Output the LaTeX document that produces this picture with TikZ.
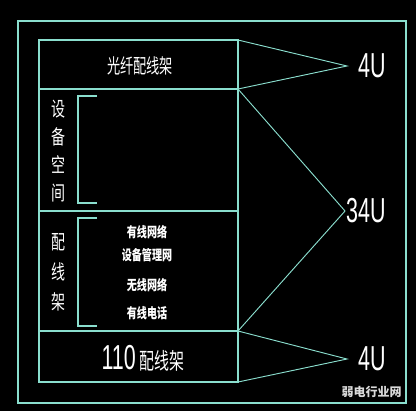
\documentclass[tikz,border=0pt]{standalone}
\usepackage{fontspec}
\setmainfont{Noto Sans CJK SC}
\newfontfamily\numfont{Liberation Sans}
\usetikzlibrary{positioning}
\definecolor{cadline}{RGB}{138,222,206}
\tikzset{
  rack/.style={draw=cadline, line width=0.8pt},
  lead/.style={draw=cadline, line width=0.7pt},
  label/.style={text=white, inner sep=0pt, font=\fontsize{15}{15}\selectfont, xscale=0.66},
  vlabel/.style={text=white, inner sep=0pt, align=center, font=\fontsize{15}{21}\selectfont, xscale=0.7},
  small/.style={text=white, inner sep=0pt, font=\bfseries\fontsize{10.5}{10.5}\selectfont, xscale=0.72},
  ulabel/.style={text=white, inner sep=0pt, font=\numfont\fontsize{26}{26}\selectfont, xscale=0.62}
}
\begin{document}
\begin{tikzpicture}[x=0.75pt, y=-0.75pt]
\fill[black] (0,0) rectangle (416,411);
\useasboundingbox (0,0) rectangle (416,411);

% frame and rack
\draw[rack] (18,21) rectangle (406,403);
\coordinate (tl) at (39,40); \coordinate (tr) at (238,40);
\coordinate (ar) at (238,89); \coordinate (br) at (238,211);
\coordinate (cr) at (238,331); \coordinate (dr) at (238,382);
\draw[rack] (tl) rectangle (dr);
\draw[rack] (39,89) -- (ar); \draw[rack] (39,211) -- (br); \draw[rack] (39,331) -- (cr);

% brackets
\draw[rack] (97,96) -- (78,96) -- (78,203) -- (97,203);
\draw[rack] (97,218) -- (78,218) -- (78,326) -- (97,326);

% texts
\node[label] (fiber) at (140,66) {光纤配线架};
\node[vlabel] (space) at (58,151) {设\\备\\空\\间};
\node[vlabel, font=\fontsize{15}{22.5}\selectfont] (patch) at (58,272) {配\\线\\架};
\node[small] (n1) at (147,232) {有线网络};
\node[small] (n2) at (147,255) {设备管理网};
\node[small] (n3) at (147,285) {无线网络};
\node[small] (n4) at (147,313) {有线电话};
\node[ulabel, anchor=base east] (p110) at (136,369) {110};
\node[label, font=\fontsize{17}{17}\selectfont, anchor=base west] (pframe) at (139,369) {配线架};

% unit marks
\coordinate (t4) at (347,66);
\coordinate (m34) at (345,211);
\coordinate (b4) at (347,359);
\node[ulabel, anchor=west] (u1) at (358,66) {4U};
\node[ulabel, anchor=west] (u2) at (346,211) {34U};
\node[ulabel, anchor=west] (u3) at (358,359) {4U};
\draw[lead] (tr) -- (t4) -- (ar);
\draw[lead] (ar) -- (m34) -- (cr);
\draw[lead] (cr) -- (b4) -- (dr);

% mark
\node[text=white!85!black, inner sep=0pt, font=\bfseries\fontsize{9}{9}\selectfont, anchor=east] (wm) at (402,392) {弱电行业网};
\end{tikzpicture}
\end{document}
